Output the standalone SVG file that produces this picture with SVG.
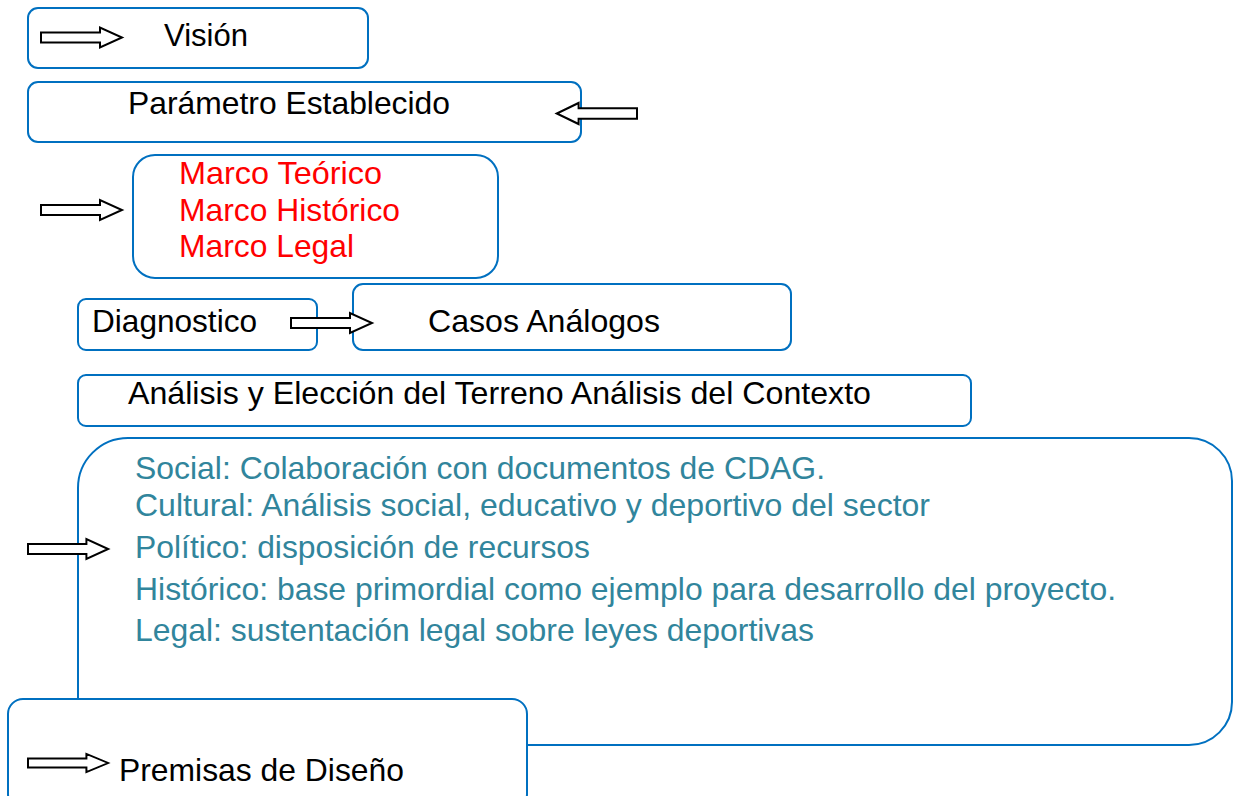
<svg xmlns="http://www.w3.org/2000/svg" width="1233" height="796" viewBox="0 0 1233 796">
<style>
.box{fill:#fff;stroke:#0070C0;stroke-width:2}
.t{font-family:"Liberation Sans",Arial,sans-serif;font-size:32px;fill:#000}
.red{fill:#FF0000}
.teal{fill:#31859C}
.arr{fill:#fff;stroke:#000;stroke-width:2;stroke-linejoin:miter}
</style>
<defs>
<path id="ar" d="M0,-5 H59 V-10 L81,0 L59,10 V5 H0 Z"/>
</defs>
<rect width="1233" height="796" fill="#fff"/>
<g id="vision">
<rect class="box" x="28" y="8" width="340" height="60" rx="10"/>
<text class="t" x="164" y="46" textLength="84" lengthAdjust="spacingAndGlyphs">Visión</text>
</g>
<g id="parametro">
<rect class="box" x="28" y="82" width="553" height="60" rx="10"/>
<text class="t" x="128" y="114" textLength="322" lengthAdjust="spacingAndGlyphs">Parámetro Establecido</text>
</g>
<g id="marcos">
<rect class="box" x="133" y="155" width="365" height="123" rx="22"/>
<text class="t red" x="179" y="184" textLength="203" lengthAdjust="spacingAndGlyphs">Marco Teórico</text>
<text class="t red" x="179" y="221" textLength="221" lengthAdjust="spacingAndGlyphs">Marco Histórico</text>
<text class="t red" x="179" y="257" textLength="175" lengthAdjust="spacingAndGlyphs">Marco Legal</text>
</g>
<g id="diagnostico">
<rect class="box" x="78" y="299" width="239" height="51" rx="8"/>
<text class="t" x="92" y="332" textLength="165" lengthAdjust="spacingAndGlyphs">Diagnostico</text>
</g>
<g id="casos">
<rect class="box" x="353" y="284" width="438" height="66" rx="10"/>
<text class="t" x="428" y="332" textLength="232" lengthAdjust="spacingAndGlyphs">Casos Análogos</text>
</g>
<g id="analisis">
<rect class="box" x="78" y="375" width="893" height="51" rx="8"/>
<text class="t" x="128" y="404" textLength="743" lengthAdjust="spacingAndGlyphs">Análisis y Elección del Terreno Análisis del Contexto</text>
</g>
<g id="contexto">
<path class="box" d="M78,488 A50,50 0 0 1 128,438 H1189 A43,43 0 0 1 1232,481 V702 A43,43 0 0 1 1189,745 H90 A12,12 0 0 1 78,733 Z"/>
<text class="t teal" x="135" y="479" textLength="690" lengthAdjust="spacingAndGlyphs">Social: Colaboración con documentos de CDAG.</text>
<text class="t teal" x="135" y="516" textLength="795" lengthAdjust="spacingAndGlyphs">Cultural: Análisis social, educativo y deportivo del sector</text>
<text class="t teal" x="135" y="558" textLength="455" lengthAdjust="spacingAndGlyphs">Político: disposición de recursos</text>
<text class="t teal" x="135" y="600" textLength="981" lengthAdjust="spacingAndGlyphs">Histórico: base primordial como ejemplo para desarrollo del proyecto.</text>
<text class="t teal" x="135" y="641" textLength="679" lengthAdjust="spacingAndGlyphs">Legal: sustentación legal sobre leyes deportivas</text>
</g>
<g id="premisas">
<rect class="box" x="8" y="699" width="519" height="110" rx="15"/>
<text class="t" x="119" y="781" textLength="285" lengthAdjust="spacingAndGlyphs">Premisas de Diseño</text>
</g>
<g id="connectors">
<use href="#ar" class="arr" transform="translate(41,37.5)"/>
<use href="#ar" class="arr" transform="translate(637,113.5) scale(-0.99,1.05)"/>
<use href="#ar" class="arr" transform="translate(41,210)"/>
<use href="#ar" class="arr" transform="translate(291,323)"/>
<use href="#ar" class="arr" transform="translate(28,549) scale(0.99,1)"/>
<use href="#ar" class="arr" transform="translate(28,763) scale(0.99,0.9)"/>
</g>
</svg>
